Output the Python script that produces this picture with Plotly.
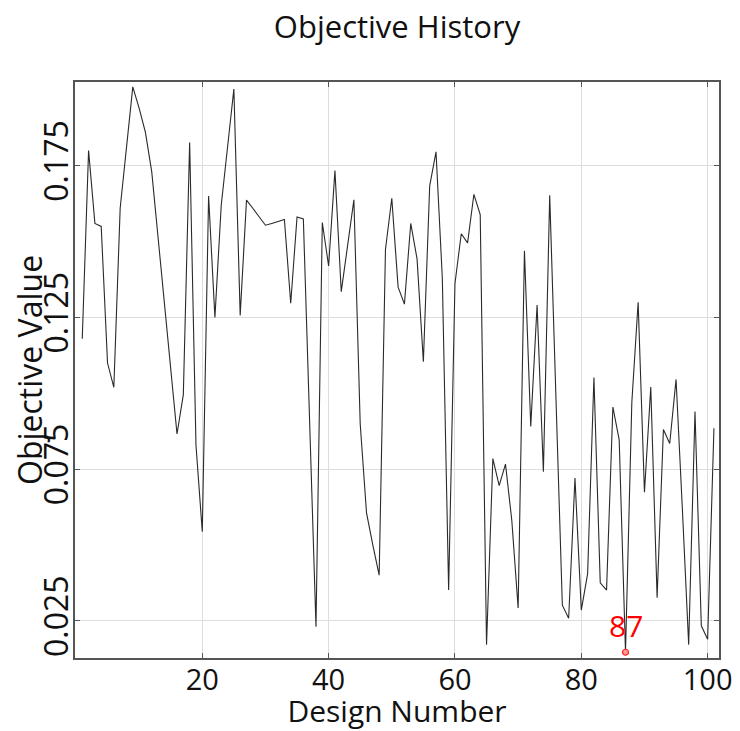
import plotly.graph_objects as go

design_numbers = list(range(1, 102))
objective_values = [
    0.118, 0.180, 0.156, 0.155, 0.110, 0.102, 0.161, 0.180, 0.201, 0.194,
    0.186, 0.173, 0.151, 0.130, 0.108, 0.0866, 0.0996, 0.1827, 0.083, 0.0544,
    0.165, 0.125, 0.162, 0.181, 0.2003, 0.1257, 0.1637, 0.161, 0.158, 0.1554,
    0.156, 0.1567, 0.1573, 0.1297, 0.1581, 0.1575, 0.090, 0.0231, 0.1563, 0.142,
    0.1734, 0.1335, 0.1486, 0.1638, 0.090, 0.0606, 0.050, 0.0401, 0.1474, 0.1643,
    0.135, 0.1294, 0.156, 0.1443, 0.1104, 0.1684, 0.1796, 0.138, 0.0352, 0.1362,
    0.1526, 0.1496, 0.1656, 0.1589, 0.0172, 0.0785, 0.0696, 0.0767, 0.0581, 0.0293,
    0.147, 0.0891, 0.1291, 0.0742, 0.1653, 0.097, 0.0302, 0.0259, 0.0721, 0.0286,
    0.0405, 0.1052, 0.0376, 0.0352, 0.0955, 0.0847, 0.0147, 0.0971, 0.130, 0.0674,
    0.1021, 0.0327, 0.0881, 0.0835, 0.1046, 0.062, 0.0172, 0.094, 0.0234, 0.019,
    0.0885,
]
x_tick_values = [20, 40, 60, 80, 100]
y_tick_values = [0.025, 0.075, 0.125, 0.175]
y_tick_labels = ["0.025", "0.075", "0.125", "0.175"]
best_design = 87
best_value = objective_values[design_numbers.index(best_design)]

FONT = "Open Sans"

fig = go.Figure()
fig.add_trace(go.Scatter(
    x=design_numbers, y=objective_values, mode="lines",
    line=dict(color="#2a2a2a", width=1.1), showlegend=False,
))
fig.add_trace(go.Scatter(
    x=[best_design], y=[best_value], mode="markers",
    marker=dict(symbol="circle", size=6, color="#ff9a9a",
                line=dict(color="#ff2020", width=1.2)),
    showlegend=False,
))
fig.add_annotation(
    x=best_design, y=best_value, text=str(best_design), showarrow=False,
    yanchor="middle", yshift=27, font=dict(family=FONT, size=30, color="#ff0000"),
)
# y-axis title
fig.add_annotation(
    xref="paper", yref="paper", x=0, y=0.5, xanchor="center", yanchor="middle",
    xshift=-46, textangle=-90, showarrow=False, text="Objective Value",
    font=dict(family=FONT, size=32, color="#111111"),
)

fig.update_layout(
    template="none",
    width=732, height=723,
    margin=dict(l=67, r=21, t=74, b=73, autoexpand=False),
    paper_bgcolor="white", plot_bgcolor="white",
    font=dict(family=FONT, color="#111111"),
    title=dict(text="Objective History", x=0.5, xref="paper", xanchor="center",
               y=1 - 19 / 723, yref="container", yanchor="middle",
               font=dict(family=FONT, size=31, color="#111111")),
)
fig.update_xaxes(
    automargin=False,
    range=[-0.15, 101.8], tickvals=x_tick_values,
    ticks="inside", ticklen=5, tickcolor="#555555", mirror="ticks",
    showline=True, linecolor="#555555", linewidth=1.5,
    showgrid=True, gridcolor="#dddddd", gridwidth=1, zeroline=False,
    tickfont=dict(family=FONT, size=29, color="#111111"),
    ticklabelstandoff=-5,
    title=dict(text="Design Number", standoff=0,
               font=dict(family=FONT, size=30, color="#111111")),
)
fig.update_yaxes(
    automargin=False,
    range=[0.0128, 0.2026], tickvals=y_tick_values, ticktext=y_tick_labels,
    tickangle=-90,
    ticks="inside", ticklen=5, tickcolor="#555555", mirror="ticks",
    showline=True, linecolor="#555555", linewidth=1.5,
    showgrid=True, gridcolor="#dddddd", gridwidth=1, zeroline=False,
    tickfont=dict(family=FONT, size=32, color="#111111"),
    ticklabelstandoff=-8,
)

fig.write_html("out.html")
